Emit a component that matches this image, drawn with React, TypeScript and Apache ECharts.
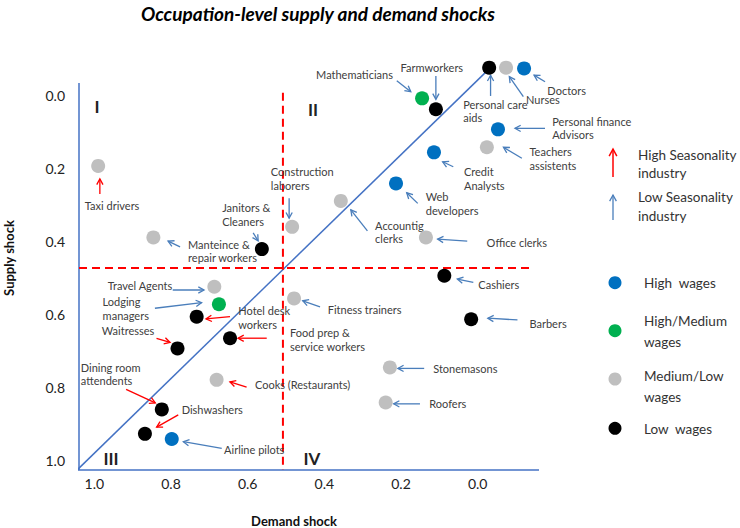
import React, { useEffect, useRef } from "react";
import * as echarts from "echarts";

// ---------- data ----------
const occupations = [
  "Taxi drivers",
  "Manteince &\nrepair workers",
  "Janitors &\nCleaners",
  "Construction\nlaborers",
  "Mathematicians",
  "Farmworkers",
  "Personal care\naids",
  "Nurses",
  "Doctors",
  "Personal finance\nAdvisors",
  "Teachers\nassistents",
  "Credit\nAnalysts",
  "Web\ndevelopers",
  "Accountig\nclerks",
  "Office clerks",
  "Cashiers",
  "Travel Agents",
  "Lodging\nmanagers",
  "Hotel desk\nworkers",
  "Food prep &\nservice workers",
  "Waitresses",
  "Cooks (Restaurants)",
  "Dining room\nattendents",
  "Dishwashers",
  "Airline pilots",
  "Fitness trainers",
  "Barbers",
  "Stonemasons",
  "Roofers",
];
const demandShock = [
  0.99, 0.846, 0.563, 0.484, 0.145, 0.109, -0.03, -0.074, -0.121, -0.053, -0.024, 0.114, 0.213, 0.357, 0.135,
  0.087, 0.687, 0.675, 0.733, 0.646, 0.783, 0.681, 0.824, 0.868, 0.798, 0.479, 0.017, 0.229, 0.24,
];
const supplyShock = [
  0.194, 0.39, 0.422, 0.361, 0.009, 0.039, -0.075, -0.075, -0.073, 0.094, 0.143, 0.157, 0.242, 0.29, 0.39,
  0.495, 0.525, 0.573, 0.607, 0.666, 0.694, 0.78, 0.861, 0.928, 0.942, 0.557, 0.614, 0.746, 0.842,
];
// 0 high, 1 high/medium, 2 medium/low, 3 low
const wageGroup = [2, 2, 3, 2, 1, 3, 3, 2, 0, 0, 2, 0, 0, 2, 2, 3, 2, 1, 3, 3, 3, 2, 3, 3, 0, 2, 3, 2, 2];
// 1 = high seasonality industry, 0 = low
const highSeasonality = [1, 0, 0, 0, 0, 0, 0, 0, 0, 0, 0, 0, 0, 0, 0, 0, 0, 0, 1, 1, 1, 1, 1, 1, 0, 0, 0, 0, 0];
const wageLabels = ["High  wages", "High/Medium\nwages", "Medium/Low\nwages", "Low  wages"];
const seasonalityLabels = ["High Seasonality\nindustry", "Low Seasonality\nindustry"];
const xTickValues = [0, 0.2, 0.4, 0.6, 0.8, 1.0];
const yTickValues = [0, 0.2, 0.4, 0.6, 0.8, 1.0];
const quadrantLabels = ["I", "II", "III", "IV"];
const demandThreshold = 0.508;
const supplyThreshold = 0.474;
const titleText = "Occupation-level supply and demand shocks";
const xAxisName = "Demand shock";
const yAxisName = "Supply shock";

// ---------- styling / layout ----------
const wageColors = ["#0070C0", "#00B050", "#BFBFBF", "#000000"];
const arrowColors = ["#4a7ebb", "#ff0000"]; // low, high seasonality
const axisBlue = "#4472C4";
const FONT = "Lato";
// label dx, first-line dy, arrow tail dx, dy, arrow tip dx, dy (pixels from the dot)
const annotationLayout = [
  [-13.3, 39.7, 1.7, 28, 1.7, 13],
  [34.7, 6.7, 26.7, 9.4, 14.7, 3.7],
  [-39.7, -41.3, -8.7, -16.3, -3.7, -8.3],
  [-21.3, -55, -3, -28.7, -3, -8.7],
  [-106, -24.3, -25.3, -17.6, -11.3, -6.6],
  [-35.3, -41.6, 0, -33.3, 0, -10],
  [-26, 36.6, 1.4, 28.3, 1.4, 7.6],
  [20, 32.3, 17.3, 29, 3.3, 9],
  [23.3, 21.7, 21, 13.4, 10, 6.7],
  [54.3, -8.3, 47, -1, 17, -1],
  [42.6, 4.4, 35, 11, 16.6, 0],
  [30, 19.4, 19.3, 14.4, 8.7, 9.4],
  [29.7, 13.4, 21.7, 20, 10.7, 9.4],
  [34.3, 24.3, 26.6, 30, 10, 9],
  [60.7, 4.7, 41.3, 3.7, 11.7, 1.7],
  [34, 8.8, 29, 6.6, 13, 3.3],
  [-106.6, -1.7, -41.6, 3.3, -10.3, 3.3],
  [-116.3, -2.6, -64, 4, -17.3, -1.6],
  [41.6, -6, 33.3, 0, 9.3, 2.3],
  [60, -5.6, 36.7, 0, 8, 0],
  [-75.7, -17.6, -21, -10, -7.5, -6],
  [38.3, 5, 30, 7.3, 13.3, 2],
  [-81, -42, -35.7, -20, -6.5, -6.5],
  [36.7, -24.7, 33.3, -19, 11.7, -6.7],
  [52.3, 11, 50, 9.3, 11.6, 2.7],
  [33.7, 11, 26, 8.4, 8.7, 2.4],
  [58.3, 4, 46.3, 0.7, 16.7, -1],
  [43.3, 1, 34.3, 1, 8, 1],
  [43.6, 1.4, 34.3, 1.4, 8, 1.4],
];

function arrow(x1: number, y1: number, x2: number, y2: number, color: string, w = 1.3, head = 6.5): any[] {
  const ang = Math.atan2(y2 - y1, x2 - x1);
  const a = 0.5;
  const p1 = [x2 - head * Math.cos(ang - a), y2 - head * Math.sin(ang - a)];
  const p2 = [x2 - head * Math.cos(ang + a), y2 - head * Math.sin(ang + a)];
  return [
    { type: "line", shape: { x1, y1, x2, y2 }, style: { stroke: color, lineWidth: w }, silent: true },
    {
      type: "polyline",
      shape: { points: [p1, [x2, y2], p2] },
      style: { stroke: color, fill: null, lineWidth: w },
      silent: true,
    },
  ];
}

function txt(text: string, x: number, y: number, opts: any = {}): any {
  const align = opts.align || "left";
  const valign = opts.valign || "middle";
  return {
    type: "text",
    x,
    y,
    rotation: opts.rotation || 0,
    silent: true,
    style: {
      text,
      fill: opts.color || "#333",
      fontSize: opts.size || 11,
      fontFamily: FONT,
      fontWeight: opts.weight || "normal",
      fontStyle: opts.style || "normal",
      lineHeight: opts.lineHeight,
      align,
      verticalAlign: valign,
      textAlign: align,
      textVerticalAlign: valign,
    },
  };
}

export default function App() {
  const ref = useRef<HTMLDivElement>(null);

  useEffect(() => {
    const chart = echarts.init(ref.current!, null, { renderer: "svg" });

    const scatterSeries = wageLabels.map((lab, g) => ({
      name: lab,
      type: "scatter",
      symbol: "circle",
      symbolSize: 14,
      itemStyle: { color: wageColors[g], opacity: 1 },
      z: 5,
      data: occupations
        .map((n, i) => ({ name: n, value: [demandShock[i], supplyShock[i]] }))
        .filter((_, i) => wageGroup[i] === g),
    }));

    const lineSeries = (data: number[][], color: string, width: number, dashed: boolean) => ({
      type: "line",
      data,
      symbol: "none",
      clip: false,
      silent: true,
      z: 2,
      lineStyle: { color, width, type: dashed ? [8, 5] : "solid" },
    });

    const option: any = {
      animation: false,
      backgroundColor: "#ffffff",
      grid: { left: 79, top: 60, width: 460, height: 410 },
      xAxis: {
        type: "value",
        min: -0.16,
        max: 1.04,
        inverse: true,
        axisLine: { show: false },
        axisTick: { show: false },
        splitLine: { show: false },
        axisLabel: {
          customValues: xTickValues,
          formatter: (v: number) => v.toFixed(1),
          fontSize: 14,
          fontFamily: FONT,
          color: "#222",
          margin: 6,
        },
      },
      yAxis: {
        type: "value",
        min: -0.096,
        max: 1.027,
        inverse: true,
        axisLine: { show: false },
        axisTick: { show: false },
        splitLine: { show: false },
        axisLabel: {
          customValues: yTickValues,
          formatter: (v: number) => v.toFixed(1),
          fontSize: 14,
          fontFamily: FONT,
          color: "#222",
          margin: 14,
        },
      },
      series: [
        // axes lines
        lineSeries([[1.04, -0.033], [1.04, 1.027]], axisBlue, 1.5, false),
        lineSeries([[1.048, 1.027], [-0.16, 1.027]], axisBlue, 1.5, false),
        // diagonal
        lineSeries([[1.048, 1.03], [-0.04, -0.082]], axisBlue, 1.5, false),
        // thresholds
        lineSeries([[demandThreshold, -0.006], [demandThreshold, 1.027]], "#ff0000", 2, true),
        lineSeries([[1.04, supplyThreshold], [-0.144, supplyThreshold]], "#ff0000", 2, true),
        ...scatterSeries,
        {
          type: "custom",
          silent: true,
          z: 4,
          encode: { x: 0, y: 1 },
          data: occupations.map((_, i) => [demandShock[i], supplyShock[i], i]),
          renderItem: (params: any, api: any) => {
            const i = api.value(2);
            const pt = api.coord([api.value(0), api.value(1)]);
            const L = annotationLayout[i];
            const col = arrowColors[highSeasonality[i]];
            const lh = 13.5;
            return {
              type: "group",
              children: [
                txt(occupations[i], pt[0] + L[0], pt[1] + L[1] - lh / 2, {
                  valign: "top",
                  lineHeight: lh,
                  color: "#404040",
                  size: 11,
                }),
                ...arrow(pt[0] + L[2], pt[1] + L[3], pt[0] + L[4], pt[1] + L[5], col),
              ],
            };
          },
        },
      ],
      graphic: [
        txt(titleText, 318, 13, { align: "center", size: 19, weight: "bold", style: "italic", color: "#000" }),
        txt(xAxisName, 294, 521, { align: "center", size: 13, weight: "bold", color: "#111" }),
        txt(yAxisName, 9, 258, { align: "center", size: 13, weight: "bold", color: "#111", rotation: Math.PI / 2 }),
        txt(quadrantLabels[0], 97, 106, { align: "center", size: 17, weight: "bold", color: "#222" }),
        txt(quadrantLabels[1], 313, 109, { align: "center", size: 17, weight: "bold", color: "#222" }),
        txt(quadrantLabels[2], 111, 458, { align: "center", size: 17, weight: "bold", color: "#222" }),
        txt(quadrantLabels[3], 312, 458, { align: "center", size: 17, weight: "bold", color: "#222" }),
        // seasonality legend
        ...arrow(613, 177, 613, 149, arrowColors[1], 1.5, 8),
        txt(seasonalityLabels[0], 638, 164, { size: 13.5, lineHeight: 17.7, color: "#333" }),
        ...arrow(613, 220, 613, 195, arrowColors[0], 1.3, 7),
        txt(seasonalityLabels[1], 638, 206.5, { size: 13.5, lineHeight: 18.4, color: "#333" }),
        // wage legend
        ...[282.7, 330.7, 379, 428.3].map((cy, g) => ({
          type: "circle",
          shape: { cx: 615, cy, r: 6.5 },
          style: { fill: wageColors[g] },
          silent: true,
        })),
        txt(wageLabels[0], 644, 282.7, { size: 13.5, color: "#333" }),
        txt(wageLabels[1], 644, 331.3, { size: 13.5, lineHeight: 21, color: "#333" }),
        txt(wageLabels[2], 644, 386.7, { size: 13.5, lineHeight: 21, color: "#333" }),
        txt(wageLabels[3], 644, 429.3, { size: 13.5, color: "#333" }),
      ],
    };

    chart.setOption(option);
    return () => chart.dispose();
  }, []);

  return (
    <div
      ref={ref}
      style={{ position: "absolute", left: 0, top: 0, width: 740, height: 528, background: "#fff" }}
    />
  );
}
